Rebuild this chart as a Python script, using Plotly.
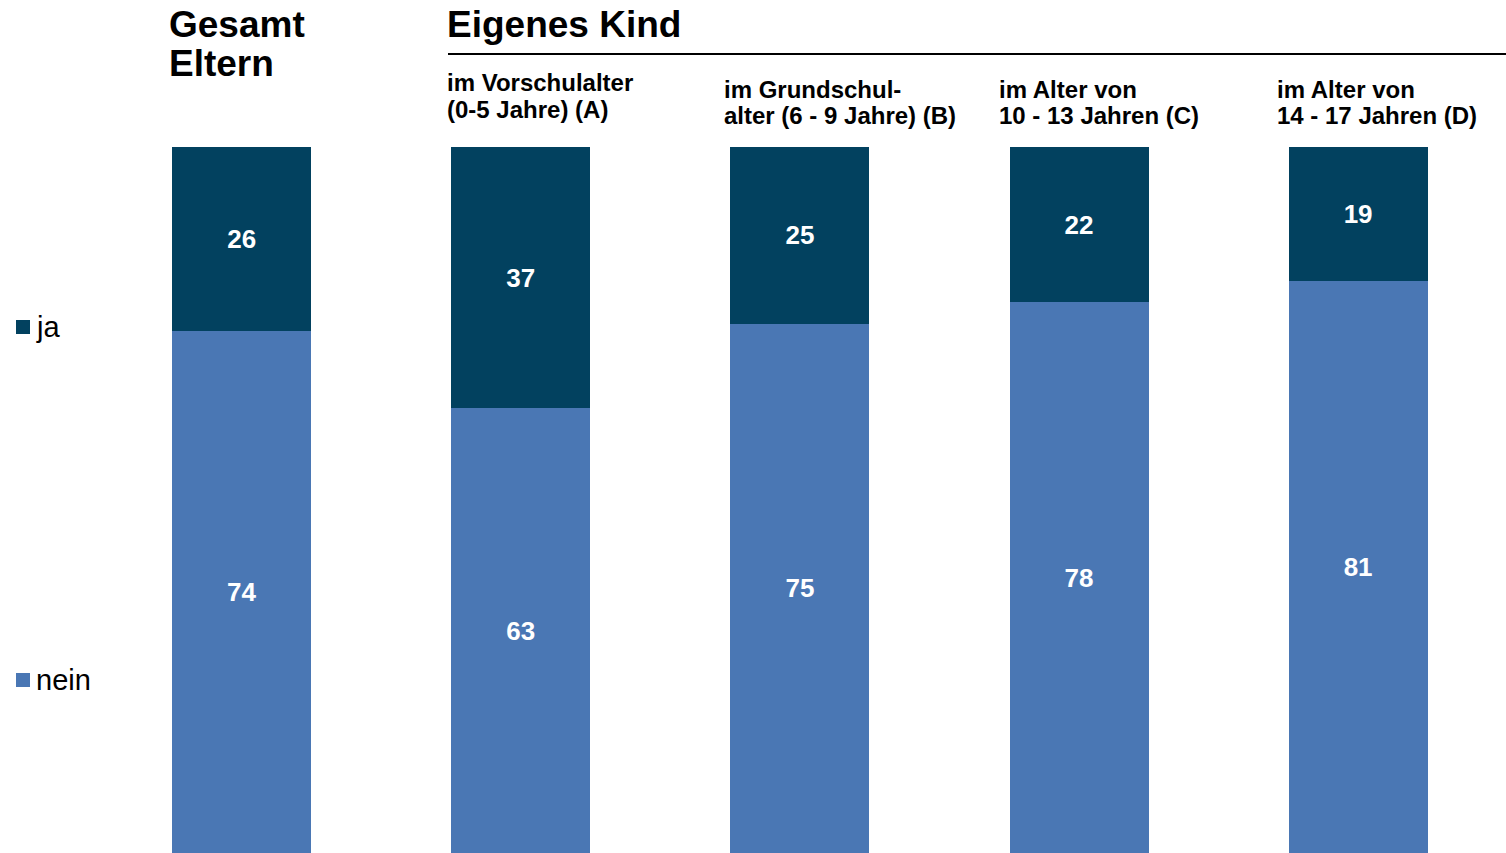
import plotly.graph_objects as go

categories = ["Gesamt Eltern", "A", "B", "C", "D"]
ja = [26, 37, 25, 22, 19]
nein = [74, 63, 75, 78, 81]
sub_headers = [
    ["im Vorschulalter", "(0-5 Jahre) (A)"],
    ["im Grundschul-", "alter (6 - 9 Jahre) (B)"],
    ["im Alter von", "10 - 13 Jahren (C)"],
    ["im Alter von", "14 - 17 Jahren (D)"],
]

W, H = 1506, 853
TOP = 147
PH = H - TOP
FONT = "Liberation Sans, Arial, sans-serif"
C_JA = "#02415F"
C_NEIN = "#4A77B4"

x = list(range(len(categories)))

def px(p):
    return p / W

def py(p):
    return (H - p) / PH

fig = go.Figure()
for vals, name, color in [(nein, "nein", C_NEIN), (ja, "ja", C_JA)]:
    fig.add_trace(go.Bar(x=x, y=vals, name=name, marker=dict(color=color, line=dict(width=0)),
                         width=0.498, text=vals, texttemplate="<b>%{text}</b>",
                         textposition="inside", insidetextanchor="middle", textangle=0,
                         textfont=dict(color="white", size=26, family=FONT), showlegend=False))

unit = 279.1
c0 = 241.7
fig.update_layout(
    barmode="stack",
    width=W, height=H,
    margin=dict(l=0, r=0, t=TOP, b=0, pad=0),
    plot_bgcolor="white", paper_bgcolor="white",
    xaxis=dict(range=[-c0 / unit, (W - c0) / unit], visible=False, fixedrange=True),
    yaxis=dict(range=[0, 100], visible=False, fixedrange=True),
    font=dict(family=FONT, color="black"),
)

ann = []

def text_at(t, xp, yp, size, bold=True):
    ann.append(dict(x=px(xp), y=py(yp), xref="paper", yref="paper", xanchor="left", yanchor="middle",
                    text=("<b>" + t + "</b>") if bold else t, showarrow=False, align="left",
                    borderpad=0, font=dict(size=size, family=FONT, color="black")))

text_at("Gesamt", 168, 24, 37)
text_at("Eltern", 168, 64, 37)
text_at("Eigenes Kind", 446, 24, 37)
sub_x = [446, 723, 998, 1276]
sub_y = [83, 89, 89, 89]
for lines, sx, sy in zip(sub_headers, sub_x, sub_y):
    text_at(lines[0], sx, sy, 24)
    text_at(lines[1], sx, sy + 26, 24)
for name, ly in [("ja", 327), ("nein", 680)]:
    text_at(name, 35, ly, 29, bold=False)

shapes = [dict(type="line", xref="paper", yref="paper", x0=px(448), x1=1, y0=py(54), y1=py(54),
               line=dict(color="black", width=2))]
for color, ly in [(C_JA, 327), (C_NEIN, 680)]:
    shapes.append(dict(type="rect", xref="paper", yref="paper", x0=px(16), x1=px(30),
                       y0=py(ly + 7), y1=py(ly - 7), fillcolor=color, line=dict(width=0)))

fig.update_layout(annotations=ann, shapes=shapes)
fig.write_html("out.html", config={"displayModeBar": False},
               post_script="document.body.style.margin='0';document.body.style.overflow='hidden';")
